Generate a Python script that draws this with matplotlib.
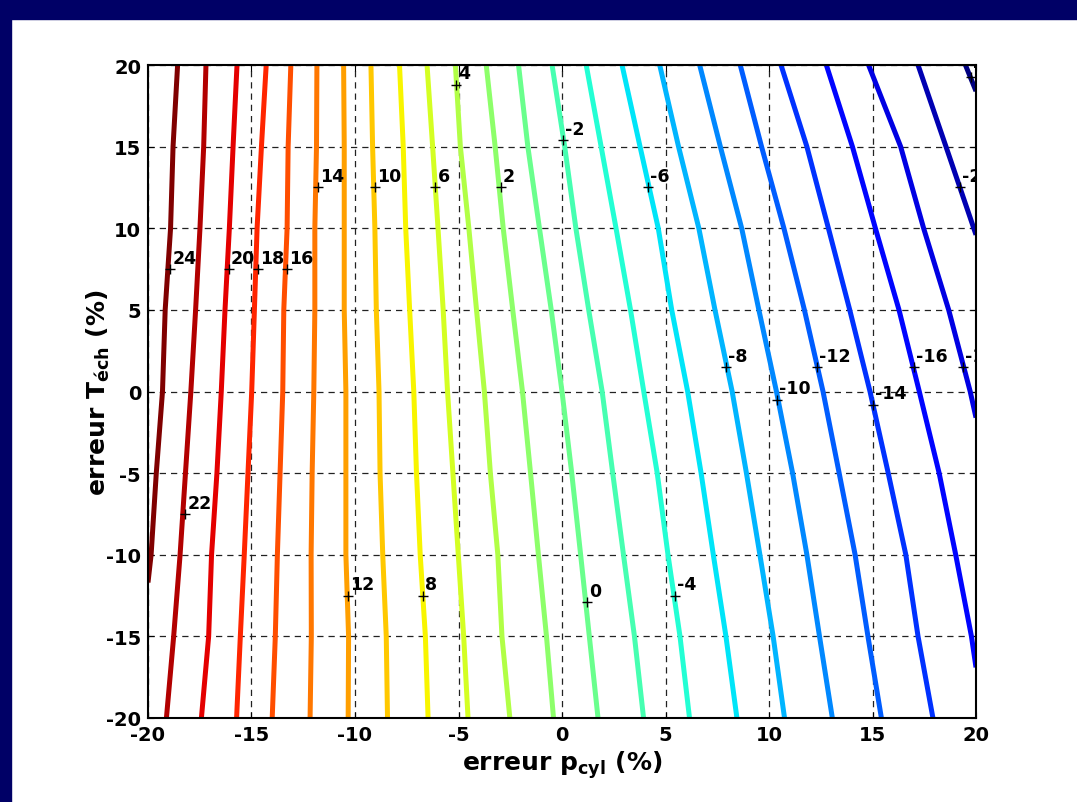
import numpy as np
import matplotlib.pyplot as plt
from matplotlib.patches import Rectangle
from matplotlib.transforms import ScaledTranslation

plt.rcParams['font.family'] = ['DejaVu Sans']
plt.rcParams['font.weight'] = 'bold'
plt.rcParams['axes.unicode_minus'] = False
plt.rcParams['mathtext.fontset'] = 'custom'
plt.rcParams['mathtext.rm'] = 'DejaVu Sans:bold'
plt.rcParams['mathtext.it'] = 'DejaVu Sans:bold'
plt.rcParams['mathtext.bf'] = 'DejaVu Sans:bold'

# Niveaux des isolignes (erreur en %)
niveaux = [24, 22, 20, 18, 16, 14, 12, 10, 8, 6, 4, 2, 0,
           -2, -4, -6, -8, -10, -12, -14, -16, -18, -20, -22]

# Ordonnees ou l'on a releve la position de chaque isoligne
y_releve = [20, 15, 10, 5, 0, -5, -10, -15, -20]

# Abscisses relevees de chaque isoligne (nan = hors du cadre)
nan = np.nan
x_releve = [
    [-18.57, -18.79, -18.91, -19.17, -19.30, -19.60, -19.85, nan, nan],
    [-17.20, -17.31, -17.49, -17.70, -17.93, -18.19, -18.45, -18.76, -19.11],
    [-15.70, -15.89, -16.07, -16.28, -16.46, -16.67, -16.93, -17.07, -17.42],
    [-14.29, -14.52, -14.73, -14.86, -14.99, -15.17, -15.35, -15.54, -15.72],
    [-13.10, -13.23, -13.28, -13.44, -13.49, -13.62, -13.75, -13.85, -14.00],
    [-11.84, -11.86, -11.94, -11.94, -11.99, -12.07, -12.12, -12.11, -12.17],
    [-10.55, -10.52, -10.52, -10.52, -10.44, -10.44, -10.44, -10.31, -10.33],
    [-9.23, -9.15, -9.04, -8.97, -8.84, -8.79, -8.66, -8.49, -8.43],
    [-7.85, -7.67, -7.55, -7.36, -7.16, -7.03, -6.85, -6.60, -6.47],
    [-6.52, -6.25, -5.99, -5.74, -5.53, -5.27, -5.01, -4.75, -4.54],
    [-5.15, -4.91, -4.50, -4.13, -3.75, -3.46, -3.10, -2.90, -2.52],
    [-3.66, -3.23, -2.84, -2.38, -1.91, -1.52, -1.14, -0.75, -0.41],
    [-2.10, -1.65, -1.09, -0.52, 0.00, 0.47, 0.90, 1.32, 1.74],
    [-0.48, 0.13, 0.67, 1.29, 1.94, 2.45, 2.97, 3.50, 3.94],
    [1.17, 1.89, 2.61, 3.31, 3.95, 4.60, 5.12, 5.70, 6.16],
    [2.90, 3.77, 4.65, 5.30, 6.07, 6.72, 7.31, 7.92, 8.45],
    [4.72, 5.63, 6.61, 7.39, 8.22, 8.91, 9.56, 10.20, 10.75],
    [6.65, 7.65, 8.68, 9.51, 10.36, 11.14, 11.83, 12.44, 13.06],
    [8.61, 9.64, 10.72, 11.71, 12.61, 13.39, 14.16, 14.78, 15.43],
    [10.58, 11.83, 12.87, 13.90, 14.88, 15.76, 16.61, 17.20, 17.92],
    [12.77, 14.03, 15.14, 16.28, 17.26, 18.22, 19.02, 19.78, nan],
    [14.81, 16.36, 17.47, 18.68, 19.72, nan, nan, nan, nan],
    [17.20, 18.55, nan, nan, nan, nan, nan, nan, nan],
    [19.49, nan, nan, nan, nan, nan, nan, nan, nan],
]

# Points ou les isolignes sortent par un bord lateral
niveaux_bord = [24, -16, -18, -20, -22]
x_bord = [-20, 20, 20, 20, 20]
y_bord = [-11.7, -16.9, -1.6, 9.6, 18.4]

# Etiquettes des isolignes (position du "+")
etiq_niveaux = [24, 22, 20, 18, 16, 14, 12, 10, 8, 6, 4, 2, 0,
                -2, -4, -6, -8, -10, -12, -14, -16, -18, -20, -22]
etiq_x = [-18.92, -18.20, -16.11, -14.70, -13.29, -11.81, -10.36, -9.05, -6.72,
          -6.12, -5.11, -2.95, 1.21, 0.05, 5.44, 4.14, 7.94, 10.39, 12.32,
          15.03, 16.99, 19.37, 19.21, 19.76]
etiq_y = [7.5, -7.5, 7.5, 7.5, 7.5, 12.5, -12.5, 12.5, -12.5, 12.5, 18.8, 12.5,
          -12.9, 15.4, -12.5, 12.5, 1.5, -0.5, 1.5, -0.8, 1.5, 1.5, 12.5, 19.25]

graduations = [-20, -15, -10, -5, 0, 5, 10, 15, 20]

W, H = 1077, 803
fig = plt.figure(figsize=(W / 100, H / 100), dpi=100)
fig.patch.set_facecolor('white')

# Bandeau bleu nuit de la diapositive (bord gauche et haut)
fig.patches.append(Rectangle((0, 0), 11 / W, 1, transform=fig.transFigure,
                             color='#000066', zorder=0))
fig.patches.append(Rectangle((0, 1 - 20 / H), 1, 20 / H, transform=fig.transFigure,
                             color='#000066', zorder=0))

ax = fig.add_axes([148 / W, 1 - 719 / H, 828 / W, 653 / H])

cmap = plt.get_cmap('jet')
norm = plt.Normalize(min(niveaux), max(niveaux))

for niv, xs in zip(niveaux, x_releve):
    xs = np.array(xs, dtype=float)
    ys = np.array(y_releve, dtype=float)
    ok = ~np.isnan(xs)
    xs, ys = xs[ok], ys[ok]
    if niv in niveaux_bord:
        k = niveaux_bord.index(niv)
        xs = np.append(xs, x_bord[k])
        ys = np.append(ys, y_bord[k])
    ordre = np.argsort(-ys)
    ax.plot(xs[ordre], ys[ordre], color=cmap(norm(niv)), lw=3.6,
            solid_capstyle='butt', solid_joinstyle='round', zorder=2)

ax.plot(etiq_x, etiq_y, '+', color='k', ms=7, mew=1, zorder=4)
decalage = ax.transData + ScaledTranslation(1.5 / 72, 4.5 / 72, fig.dpi_scale_trans)
for niv, x, y in zip(etiq_niveaux, etiq_x, etiq_y):
    ax.text(x, y, str(niv), transform=decalage, fontsize=12.5, fontweight='bold',
            ha='left', va='baseline', clip_on=True, zorder=5)

ax.set_xlim(-20, 20)
ax.set_ylim(-20, 20)
ax.set_xticks(graduations)
ax.set_yticks(graduations)
ax.tick_params(direction='in', top=True, right=True, length=4, labelsize=14, pad=5)
for lab in ax.get_xticklabels() + ax.get_yticklabels():
    lab.set_fontweight('bold')
ax.set_axisbelow(True)
ax.grid(True, color='#222222', linestyle=(0, (5, 4)), lw=0.9)
for sp in ax.spines.values():
    sp.set_linewidth(1.5)

ax.set_xlabel('erreur p$_{\\mathrm{cyl}}$ (%)', fontsize=18, fontweight='bold', labelpad=3)
ax.set_ylabel('erreur T$_{\\mathrm{éch}}$ (%)', fontsize=18, fontweight='bold')
ax.yaxis.set_label_coords(-0.043, 0.5)

fig.savefig('out.png', dpi=100)
